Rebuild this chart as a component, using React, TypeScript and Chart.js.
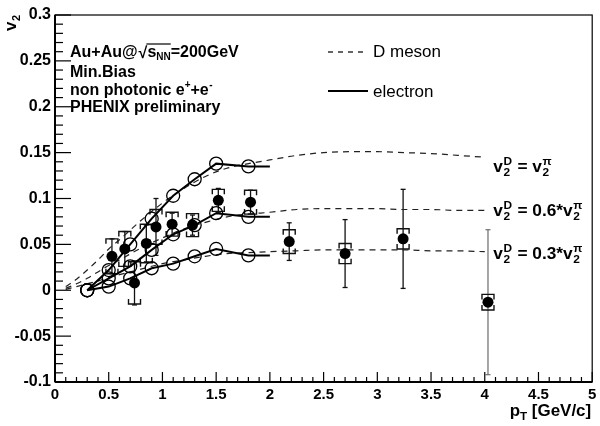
import React, { useEffect, useRef } from "react";
import { Chart, registerables } from "chart.js";

Chart.register(...registerables);

// ---------- data ----------
// D meson v2 (dashed curves), three assumptions
const dMesonPt = [0.1, 0.2, 0.3, 0.4, 0.5, 0.6, 0.8, 1.0, 1.2, 1.4, 1.6, 1.8, 2.0, 2.25, 2.5, 2.75, 3.0, 3.25, 3.5, 3.75, 4.0];
const dMesonFull = [0.004, 0.012, 0.022, 0.033, 0.045, 0.055, 0.076, 0.095, 0.111, 0.124, 0.133, 0.138, 0.142, 0.147, 0.150, 0.151, 0.151, 0.150, 0.149, 0.147, 0.145];
const dMeson06 = [0.002, 0.007, 0.013, 0.020, 0.027, 0.033, 0.046, 0.057, 0.067, 0.074, 0.080, 0.083, 0.085, 0.088, 0.089, 0.089, 0.089, 0.088, 0.088, 0.087, 0.087];
const dMeson03 = [0.001, 0.004, 0.007, 0.010, 0.014, 0.017, 0.023, 0.029, 0.033, 0.037, 0.040, 0.041, 0.042, 0.043, 0.044, 0.044, 0.044, 0.044, 0.043, 0.043, 0.042];

// decay-electron v2 (solid curves with open circles)
const elecCurvePt = [0.3, 0.5, 0.7, 0.9, 1.1, 1.3, 1.5, 1.8, 2.0];
const elecCurveFull = [0.0, 0.022, 0.05, 0.078, 0.103, 0.121, 0.138, 0.135, 0.135];
const elecCurve06 = [0.0, 0.013, 0.026, 0.044, 0.061, 0.071, 0.084, 0.080, 0.080];
const elecCurve03 = [0.0, 0.004, 0.013, 0.024, 0.029, 0.037, 0.045, 0.038, 0.038];

// PHENIX non-photonic electron v2 data
const dataPt = [0.53, 0.65, 0.74, 0.85, 0.94, 1.09, 1.28, 1.52, 1.82, 2.18, 2.70, 3.24, 4.03];
const dataV2 = [0.037, 0.045, 0.008, 0.051, 0.069, 0.072, 0.071, 0.098, 0.096, 0.053, 0.040, 0.056, -0.013];
const dataStat = [0.019, 0.019, 0.024, 0.020, 0.031, 0.012, 0.011, 0.013, 0.013, 0.0205, 0.037, 0.054, 0.079];
const dataSys = [0.019, 0.019, 0.023, 0.021, 0.019, 0.013, 0.0125, 0.012, 0.013, 0.013, 0.011, 0.011, 0.0085];

const curveLabelFactors = ["", "0.6*", "0.3*"];
const curveLabelY = [0.129, 0.0805, 0.0345];
const textBlock = ["Min.Bias", "non photonic e", "PHENIX preliminary"];
const legendLabels = ["D meson", "electron"];

const FONT = '"Liberation Sans", Arial, Helvetica, sans-serif';

function pts(xs: number[], ys: number[]) {
  return xs.map((x, i) => ({ x, y: ys[i] }));
}

function line(ctx: CanvasRenderingContext2D, x1: number, y1: number, x2: number, y2: number) {
  ctx.beginPath();
  ctx.moveTo(x1, y1);
  ctx.lineTo(x2, y2);
  ctx.stroke();
}

// draws v_2^{sup}; returns width
function drawV2(ctx: CanvasRenderingContext2D, x: number, y: number, sup: string) {
  ctx.font = `bold 16px ${FONT}`;
  ctx.fillText("v", x, y);
  const wv = ctx.measureText("v").width;
  ctx.font = `bold 11px ${FONT}`;
  ctx.fillText(sup, x + wv + 0.5, y - 7);
  ctx.fillText("2", x + wv + 0.5, y + 4);
  const w2 = Math.max(ctx.measureText(sup).width, ctx.measureText("2").width);
  return wv + w2 + 1;
}

const decor = {
  id: "decor",
  beforeDatasetsDraw(chart: any) {
    const { ctx } = chart;
    const xs = chart.scales.x;
    const ys = chart.scales.y;
    ctx.save();
    dataPt.forEach((x: number, i: number) => {
      const px = xs.getPixelForValue(x);
      const y = dataV2[i];
      const t = ys.getPixelForValue(y + dataStat[i]);
      const b = ys.getPixelForValue(y - dataStat[i]);
      ctx.lineWidth = 1.3;
      ctx.strokeStyle = i === dataPt.length - 1 ? "#777" : "#111";
      line(ctx, px, t, px, b);
      line(ctx, px - 2.5, t, px + 2.5, t);
      line(ctx, px - 2.5, b, px + 2.5, b);
      ctx.strokeStyle = "#111";
      ctx.lineWidth = 1.4;
      const st = ys.getPixelForValue(y + dataSys[i]);
      const sb = ys.getPixelForValue(y - dataSys[i]);
      const w = 6;
      const leg = 5;
      ctx.beginPath();
      ctx.moveTo(px - w, st + leg);
      ctx.lineTo(px - w, st);
      ctx.lineTo(px + w, st);
      ctx.lineTo(px + w, st + leg);
      ctx.stroke();
      ctx.beginPath();
      ctx.moveTo(px - w, sb - leg);
      ctx.lineTo(px - w, sb);
      ctx.lineTo(px + w, sb);
      ctx.lineTo(px + w, sb - leg);
      ctx.stroke();
    });
    ctx.restore();
  },
  afterDraw(chart: any) {
    const { ctx, chartArea } = chart;
    const { left, right, top, bottom } = chartArea;
    const xs = chart.scales.x;
    const ys = chart.scales.y;
    ctx.save();
    ctx.strokeStyle = "#000";
    ctx.fillStyle = "#000";

    // frame
    ctx.lineWidth = 1.2;
    ctx.strokeRect(left, top, right - left, bottom - top);
    ctx.lineWidth = 2;
    line(ctx, left, top, left, bottom);
    line(ctx, left, bottom, right, bottom);

    // ticks (inside, ROOT style)
    ctx.lineWidth = 1.2;
    for (let i = -10; i <= 30; i++) {
      const py = ys.getPixelForValue(i / 100);
      const major = i % 5 === 0;
      line(ctx, left, py, left + (major ? 16 : 8), py);
    }
    for (let i = 0; i <= 50; i++) {
      const px = xs.getPixelForValue(i / 10);
      const major = i % 5 === 0;
      line(ctx, px, bottom, px, bottom - (major ? 10 : 5));
    }

    // y axis title (rotated v_2)
    ctx.save();
    ctx.translate(16, 31);
    ctx.rotate(-Math.PI / 2);
    ctx.textAlign = "left";
    ctx.textBaseline = "alphabetic";
    ctx.font = `bold 17px ${FONT}`;
    ctx.fillText("v", 0, 0);
    const wv = ctx.measureText("v").width;
    ctx.font = `bold 11px ${FONT}`;
    ctx.fillText("2", wv + 0.5, 4);
    ctx.restore();

    // x axis title p_T [GeV/c]
    ctx.save();
    ctx.textBaseline = "alphabetic";
    ctx.font = `bold 16px ${FONT}`;
    const wRest = ctx.measureText(" [GeV/c]").width;
    const wp = ctx.measureText("p").width;
    ctx.font = `bold 11px ${FONT}`;
    const wT = ctx.measureText("T").width;
    const sx = 1.06;
    const total = (wp + wT + wRest) * sx;
    ctx.translate(right - 1 - total, 416);
    ctx.scale(sx, 1);
    ctx.font = `bold 16px ${FONT}`;
    ctx.fillText("p", 0, 0);
    ctx.font = `bold 11px ${FONT}`;
    ctx.fillText("T", wp, 4);
    ctx.font = `bold 16px ${FONT}`;
    ctx.fillText(" [GeV/c]", wp + wT, 0);
    ctx.restore();

    // text block top-left
    ctx.save();
    ctx.textBaseline = "alphabetic";
    let x = 70;
    const y1 = 57;
    ctx.font = `bold 16px ${FONT}`;
    ctx.fillText("Au+Au@", x, y1);
    x += ctx.measureText("Au+Au@").width + 1;
    ctx.font = `bold 16px ${FONT}`;
    ctx.fillText("\u221A", x, y1 + 1);
    x += ctx.measureText("\u221A").width;
    const ovStart = x - 1;
    ctx.fillText("s", x, y1);
    x += ctx.measureText("s").width;
    ctx.font = `bold 10px ${FONT}`;
    ctx.fillText("NN", x, y1 + 3);
    x += ctx.measureText("NN").width;
    ctx.lineWidth = 1.2;
    line(ctx, ovStart, y1 - 13, x, y1 - 13);
    ctx.font = `bold 16px ${FONT}`;
    ctx.fillText("=200GeV", x, y1);

    ctx.fillText(textBlock[0], 70, 77);
    ctx.fillText(textBlock[1], 70, 95);
    let xe = 70 + ctx.measureText(textBlock[1]).width;
    ctx.font = `bold 10px ${FONT}`;
    ctx.fillText("+", xe, 88);
    xe += ctx.measureText("+").width;
    ctx.font = `bold 16px ${FONT}`;
    ctx.fillText("+e", xe, 95);
    xe += ctx.measureText("+e").width;
    ctx.font = `bold 10px ${FONT}`;
    ctx.fillText("-", xe + 0.5, 88);
    ctx.font = `bold 16px ${FONT}`;
    ctx.fillText(textBlock[2], 70, 112);
    ctx.restore();

    // legend
    ctx.save();
    ctx.lineWidth = 1.2;
    ctx.setLineDash([5, 5]);
    line(ctx, 328, 52, 368, 52);
    ctx.setLineDash([]);
    ctx.lineWidth = 2.2;
    line(ctx, 328, 91, 368, 91);
    ctx.font = `17px ${FONT}`;
    ctx.fillText(legendLabels[0], 373, 57);
    ctx.fillText(legendLabels[1], 373, 96.5);
    ctx.restore();

    // curve labels
    ctx.save();
    const lx = xs.getPixelForValue(4.08);
    curveLabelY.forEach((yv: number, i: number) => {
      const by = ys.getPixelForValue(yv);
      ctx.save();
      ctx.translate(lx, by);
      ctx.scale(1.08, 1);
      let cx = 0;
      cx += drawV2(ctx, cx, 0, "D");
      ctx.font = `bold 16px ${FONT}`;
      const mid = " = " + curveLabelFactors[i];
      ctx.fillText(mid, cx, 0);
      cx += ctx.measureText(mid).width;
      drawV2(ctx, cx, 0, "\u03C0");
      ctx.restore();
    });
    ctx.restore();

    ctx.restore();
  },
};

export default function App() {
  const ref = useRef<HTMLCanvasElement>(null);
  useEffect(() => {
    document.body.style.margin = "0";
    const canvas = ref.current!;
    const dashed = {
      borderColor: "#222",
      borderWidth: 1.2,
      borderDash: [6, 5],
      pointRadius: 0,
      showLine: true,
      fill: false,
      cubicInterpolationMode: "monotone" as const,
    };
    const solid = {
      borderColor: "#000",
      borderWidth: 2,
      pointBorderColor: "#000",
      pointBackgroundColor: "rgba(0,0,0,0)",
      pointBorderWidth: 1.3,
      pointRadius: elecCurvePt.map((_, i) => (i === elecCurvePt.length - 1 ? 0 : 6.5)),
      showLine: true,
      fill: false,
    };
    const chart = new Chart(canvas, {
      type: "scatter",
      data: {
        datasets: [
          {
            label: "data",
            data: pts(dataPt, dataV2),
            pointRadius: 5.5,
            pointBackgroundColor: "#000",
            pointBorderColor: "#000",
            pointBorderWidth: 0,
            showLine: false,
          },
          { label: "e full", data: pts(elecCurvePt, elecCurveFull), ...solid },
          { label: "e 0.6", data: pts(elecCurvePt, elecCurve06), ...solid },
          { label: "e 0.3", data: pts(elecCurvePt, elecCurve03), ...solid },
          { label: "D full", data: pts(dMesonPt, dMesonFull), ...dashed },
          { label: "D 0.6", data: pts(dMesonPt, dMeson06), ...dashed },
          { label: "D 0.3", data: pts(dMesonPt, dMeson03), ...dashed },
        ] as any,
      },
      options: {
        animation: false,
        responsive: false,
        devicePixelRatio: 1,
        layout: { padding: { top: 15, right: 3, left: 0, bottom: 0 } },
        plugins: { legend: { display: false }, tooltip: { enabled: false } },
        scales: {
          x: {
            type: "linear",
            min: 0,
            max: 5,
            grid: { display: false, drawTicks: false },
            border: { display: false },
            ticks: {
              stepSize: 0.5,
              autoSkip: false,
              maxRotation: 0,
              padding: 4,
              color: "#000",
              font: { family: FONT, size: 15, weight: "bold" },
              callback: (v: any) => String(parseFloat(Number(v).toFixed(2))),
            },
            afterFit: (s: any) => {
              s.height = 44;
              s.paddingLeft = 0;
              s.paddingRight = 0;
            },
          },
          y: {
            type: "linear",
            min: -0.1,
            max: 0.3,
            grid: { display: false, drawTicks: false },
            border: { display: false },
            ticks: {
              stepSize: 0.05,
              autoSkip: false,
              padding: 4,
              color: "#000",
              font: { family: FONT, size: 16, weight: "bold" },
              callback: (v: any) => String(parseFloat(Number(v).toFixed(2))),
            },
            afterFit: (s: any) => {
              s.width = 55;
              s.paddingTop = 0;
              s.paddingBottom = 0;
            },
          },
        },
      } as any,
      plugins: [decor],
    });
    return () => chart.destroy();
  }, []);
  return <canvas ref={ref} width={600} height={426} style={{ display: "block" }} />;
}
